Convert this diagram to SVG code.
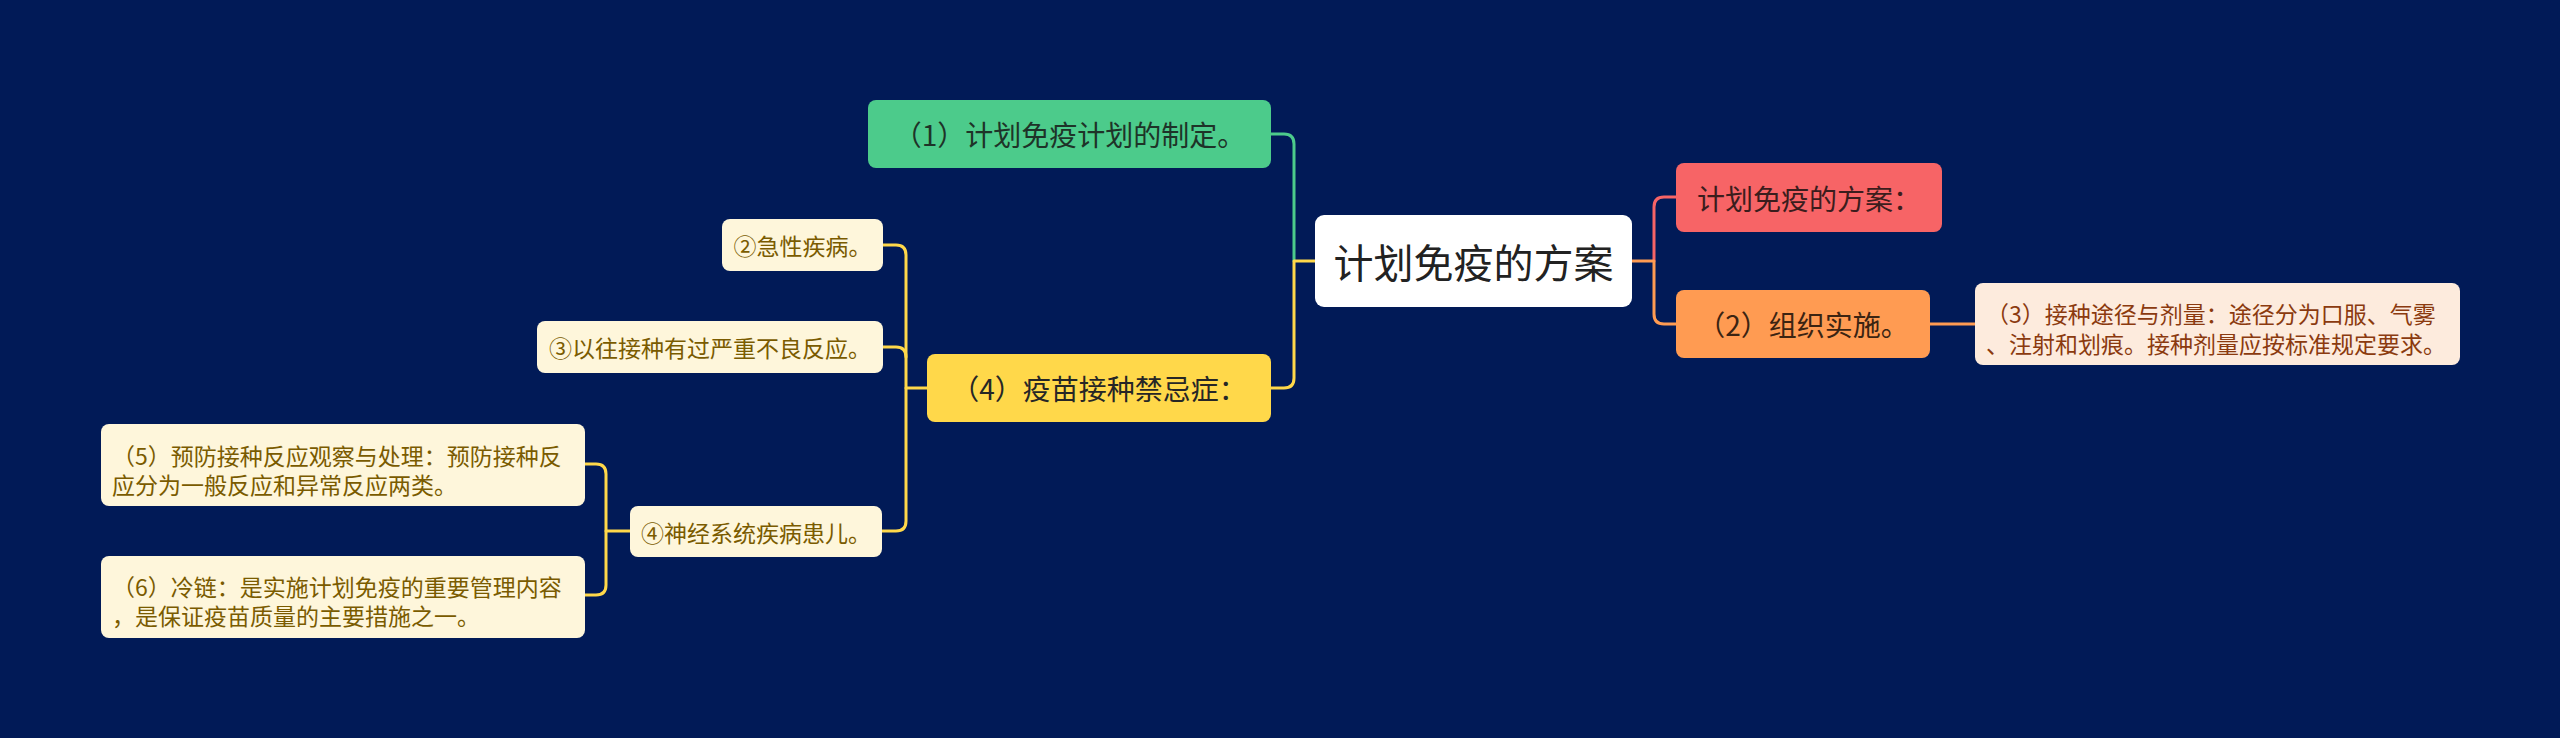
<svg xmlns="http://www.w3.org/2000/svg" width="2560" height="738" viewBox="0 0 2560 738">
<style>
text{font-family:"Noto Sans CJK SC","Noto Sans",sans-serif;text-anchor:middle;dominant-baseline:central}
text.left{text-anchor:start}
.c{fill:none;stroke-width:3;stroke-linecap:round;stroke-linejoin:round}
.l1{font-size:28px}
.l2{font-size:23px}
.cream rect{fill:#fef6db}
.cream text{fill:#7a5b00}
</style>
<rect width="2560" height="738" fill="#011a57"/>
<g id="connectors">
<path class="c" stroke="#4ccb8b" d="M1294,261 V144 Q1294,134 1284,134 H1271"/>
<path class="c" stroke="#ffd84a" d="M1315,261 H1294 V378 Q1294,388 1284,388 H1271"/>
<path class="c" stroke="#f76466" d="M1654,261 V207 Q1654,197 1664,197 H1676"/>
<path class="c" stroke="#ff9b52" d="M1632,261 H1654 V314 Q1654,324 1664,324 H1676"/>
<path class="c" stroke="#ff9b52" d="M1930,324 H1975"/>
<path class="c" stroke="#ffd84a" d="M927,388 H906 V255 Q906,245 896,245 H883"/>
<path class="c" stroke="#ffd84a" d="M906,357 Q906,347 896,347 H883"/>
<path class="c" stroke="#ffd84a" d="M906,388 V521 Q906,531 896,531 H882"/>
<path class="c" stroke="#ffd84a" d="M630,531 H606 V474 Q606,464 596,464 H585"/>
<path class="c" stroke="#ffd84a" d="M606,531 V585 Q606,595 596,595 H585"/>
</g>
<g id="root">
<rect x="1315" y="215" width="317" height="92" rx="9" fill="#ffffff"/>
<text x="1473.5" y="261" font-size="40" fill="#222222">计划免疫的方案</text>
</g>
<g id="n1">
<rect x="868" y="100" width="403" height="68" rx="8" fill="#4ccb8b"/>
<text class="l1" x="1069.5" y="134" fill="#1e3328">（1）计划免疫计划的制定。</text>
</g>
<g id="n4">
<rect x="927" y="354" width="344" height="68" rx="8" fill="#ffd84a"/>
<text class="l1" x="1099" y="388" fill="#262626">（4）疫苗接种禁忌症：</text>
</g>
<g id="plan">
<rect x="1676" y="163" width="266" height="69" rx="8" fill="#f76466"/>
<text class="l1" x="1809" y="197.5" fill="#3b1d1d">计划免疫的方案：</text>
</g>
<g id="n2">
<rect x="1676" y="290" width="254" height="68" rx="8" fill="#ff9b52"/>
<text class="l1" x="1803" y="324" fill="#3b2412">（2）组织实施。</text>
</g>
<g id="n3">
<rect x="1975" y="283" width="485" height="82" rx="8" fill="#fdebdd"/>
<text class="l2 left" x="1986" y="313" fill="#8b3a0f">（3）接种途径与剂量：途径分为口服、气雾</text>
<text class="l2 left" x="1986" y="343" fill="#8b3a0f">、注射和划痕。接种剂量应按标准规定要求。</text>
</g>
<g id="c2" class="cream">
<rect x="722" y="219" width="161" height="52" rx="8"/>
<text class="l2" x="802.5" y="245">②急性疾病。</text>
</g>
<g id="c3" class="cream">
<rect x="537" y="321" width="346" height="52" rx="8"/>
<text class="l2" x="710" y="347">③以往接种有过严重不良反应。</text>
</g>
<g id="c4" class="cream">
<rect x="630" y="506" width="252" height="51" rx="8"/>
<text class="l2" x="756" y="531.5">④神经系统疾病患儿。</text>
</g>
<g id="n5" class="cream">
<rect x="101" y="424" width="484" height="82" rx="8"/>
<text class="l2 left" x="112" y="455">（5）预防接种反应观察与处理：预防接种反</text>
<text class="l2 left" x="112" y="484">应分为一般反应和异常反应两类。</text>
</g>
<g id="n6" class="cream">
<rect x="101" y="556" width="484" height="82" rx="8"/>
<text class="l2 left" x="112" y="586">（6）冷链：是实施计划免疫的重要管理内容</text>
<text class="l2 left" x="112" y="615">，是保证疫苗质量的主要措施之一。</text>
</g>
</svg>
